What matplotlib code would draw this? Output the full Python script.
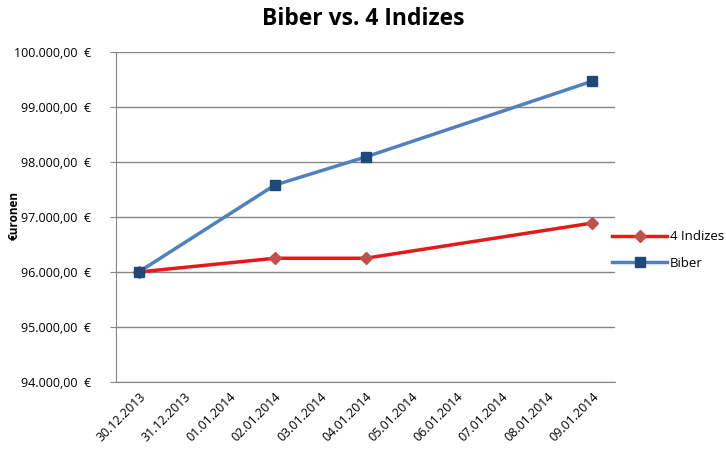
import numpy as np
import matplotlib.pyplot as plt
from matplotlib.ticker import FuncFormatter

dates = ["30.12.2013", "31.12.2013", "01.01.2014", "02.01.2014", "03.01.2014",
         "04.01.2014", "05.01.2014", "06.01.2014", "07.01.2014", "08.01.2014",
         "09.01.2014"]
indizes = [96000, np.nan, np.nan, 96250, np.nan, 96250, np.nan, np.nan, np.nan, np.nan, 96890]
biber = [96000, np.nan, np.nan, 97580, np.nan, 98090, np.nan, np.nan, np.nan, np.nan, 99470]

plt.rcParams['font.family'] = ['Open Sans', 'DejaVu Sans']

fig = plt.figure(figsize=(7.26, 4.62), dpi=100)
ax = fig.add_axes([116 / 726, 80 / 462, 499 / 726, 330 / 462])

x = np.arange(len(dates))


def plot_series(vals, color, mcolor, marker, ms, label):
    vals = np.array(vals, dtype=float)
    ok = ~np.isnan(vals)
    ax.plot(x[ok], vals[ok], color=color, lw=2.5, marker=marker, ms=ms,
            markerfacecolor=mcolor, markeredgecolor=mcolor, label=label, zorder=3)


plot_series(indizes, "#E31A1C", "#C0504D", "D", 6, "4 Indizes")
plot_series(biber, "#4F81BD", "#1F497D", "s", 7.5, "Biber")

ax.set_xlim(-0.5, len(dates) - 0.5)
ax.set_ylim(94000, 100000)
ax.set_yticks(np.arange(94000, 100001, 1000))


def euro(v, pos):
    s = f"{v:,.2f}".replace(",", "X").replace(".", ",").replace("X", ".")
    return s + "  €"


ax.yaxis.set_major_formatter(FuncFormatter(euro))
ax.set_xticks(x)
ax.set_xticklabels(dates, rotation=45, ha="right", rotation_mode="anchor")
ax.tick_params(axis="x", length=0, labelsize=9, pad=6)
ax.tick_params(axis="y", length=4, color="#868686", labelsize=9, pad=14)

ax.grid(axis="y", color="#868686", lw=1)
ax.set_axisbelow(True)
for s in ["top", "right"]:
    ax.spines[s].set_visible(False)
for s in ["left", "bottom"]:
    ax.spines[s].set_color("#868686")

fig.text(8 / 726, 1 - 216 / 462, "€uronen", rotation=90, fontsize=8.5,
         fontweight="bold", ha="left", va="center")
fig.text(0.5, 1 - 19 / 462, "Biber vs. 4 Indizes", fontsize=16.5,
         fontweight="bold", ha="center", va="center")

ax.legend(loc="center left", bbox_to_anchor=(0.97, 0.40), frameon=False,
          fontsize=9.5, handlelength=4.2, labelspacing=1.0, handletextpad=0.2)

fig.savefig("out.png", dpi=100)
